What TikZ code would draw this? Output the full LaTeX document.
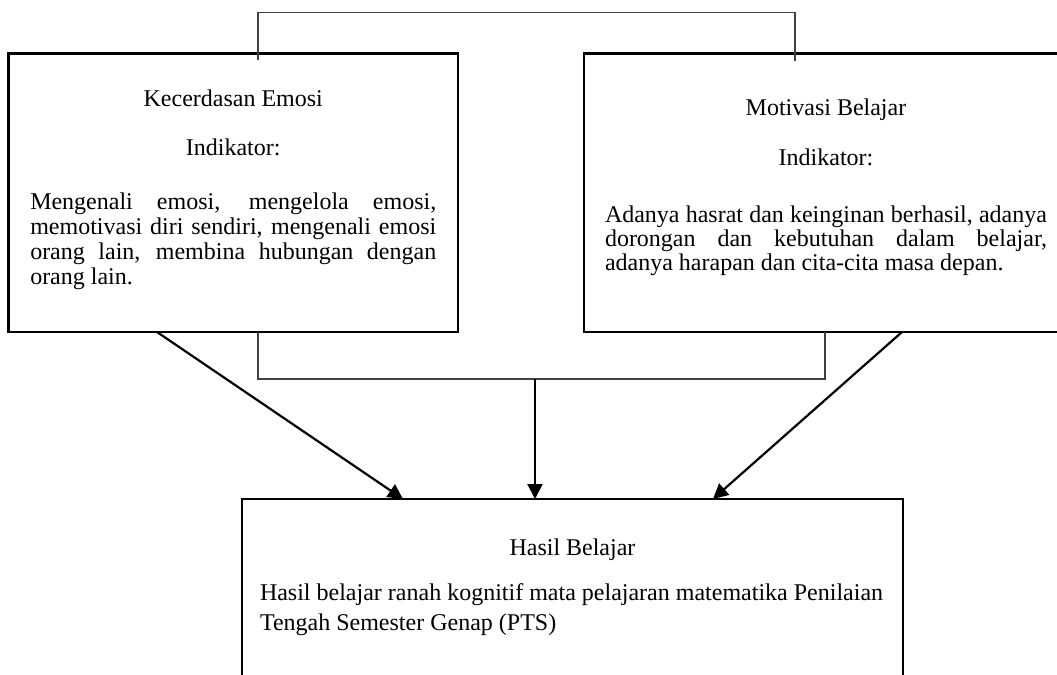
\documentclass[tikz,border=0pt]{standalone}
\usepackage{fontspec}
\setmainfont{Liberation Serif}
\usetikzlibrary{positioning,calc,arrows.meta}

\tikzset{
  kotak/.style={draw, line width=1.4pt, inner ysep=0pt, outer sep=0pt},
  garis/.style={draw=black!75, line width=0.6pt},
  panah/.style={->, line width=1.1pt}
}

\begin{document}
\begin{tikzpicture}[x=0.5pt, y=0.5pt, >={Triangle[length=7.5pt,width=7.5pt]}]
\path[use as bounding box, clip] (0,0) rectangle (1057,-675);

\node[kotak, inner xsep=10.875pt, font={\fontsize{12pt}{12.5pt}\selectfont\hyphenpenalty=10000\hbadness=10000}] (emosi) at (233.25,-192.75)
  {\parbox[c][139.25pt][t]{203pt}{\vspace*{17.75pt}\centerline{\strut Kecerdasan Emosi}\vspace{12pt}\centerline{\strut Indikator:}\vspace{14.5pt}\strut Mengenali emosi, mengelola emosi,\linebreak memotivasi diri sendiri, mengenali emosi\linebreak orang lain, membina hubungan dengan\linebreak orang lain.}};
\node[kotak, inner xsep=10.5pt, right=63pt of emosi, font={\fontsize{12pt}{12pt}\selectfont\hyphenpenalty=10000\hbadness=10000}] (motivasi)
  {\parbox[c][139.25pt][t]{221pt}{\vspace*{22.35pt}\centerline{\strut Motivasi Belajar}\vspace{13pt}\centerline{\strut Indikator:}\vspace{16.5pt}\strut Adanya hasrat dan keinginan berhasil, adanya\linebreak dorongan dan kebutuhan dalam belajar,\linebreak adanya harapan dan cita-cita masa depan.}};
\node[kotak, inner xsep=9pt, below right=83.5pt and 116.75pt of emosi.south west, font={\fontsize{12pt}{15pt}\selectfont\hyphenpenalty=10000\hbadness=10000}] (hasil)
  {\parbox[c][120pt][t]{312.5pt}{\vspace*{17.5pt}\centerline{\strut Hasil Belajar}\vspace{7.5pt}\strut Hasil belajar ranah kognitif mata pelajaran matematika Penilaian\newline Tengah Semester Genap (PTS)}};

\draw[garis] ($(emosi.north)+(24.75,-6)$) -- ++(0,47) -| ($(motivasi.north)+(-31,-7.5)$);
\draw[garis] ($(emosi.south)+(24.75,0)$) -- ++(0,-47) coordinate (gabung) -| ($(motivasi.south)+(-1,0)$);

\coordinate (tengah) at ($(hasil.north)+(-37.5,0)$);
\draw[panah] ($(emosi.south)+(-76.25,0)$) -- ($(hasil.north)+(-169.5,0)$);
\draw[panah] (tengah |- gabung) -- (tengah);
\draw[panah] ($(motivasi.south)+(76,0)$) -- ($(hasil.north)+(140.5,0)$);
\end{tikzpicture}
\end{document}
